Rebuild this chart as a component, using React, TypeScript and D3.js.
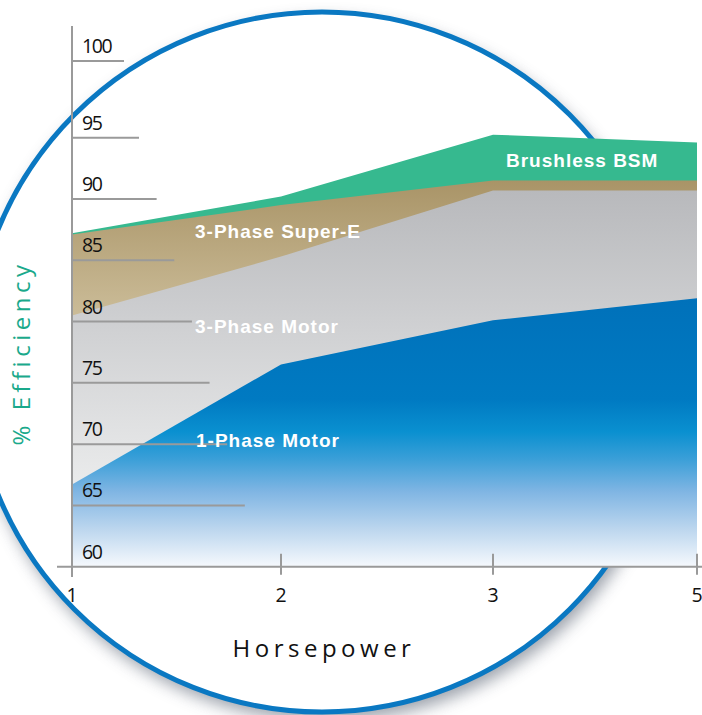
import React from "react";
import * as d3 from "d3";

// ---- data ----
const horsepower = [1, 2, 3, 5];
const xTickLabels = ["1", "2", "3", "5"];
const onePhaseMotor = [66.7, 76.5, 80.1, 81.9];
const threePhaseMotor = [80.5, 85.3, 90.7, 90.7];
const threePhaseSuperE = [87.1, 89.5, 91.5, 91.5];
const brushlessBSM = [87.2, 90.2, 95.2, 94.6];
const yTickValues = [60, 65, 70, 75, 80, 85, 90, 95, 100];
const seriesNames = ["Brushless BSM", "3-Phase Super-E", "3-Phase Motor", "1-Phase Motor"];

export default function App() {
  const x = d3.scaleLinear().domain([1, 2, 3, 5]).range([72, 281, 493, 697]);
  const y = d3.scaleLinear().domain([60, 95, 100]).range([566.7, 137.7, 61]);
  const tickEnd = d3.scaleLinear().domain([61, 137.7, 506]).range([124, 139, 245]);

  const areaGen = d3
    .area<number>()
    .x((_, i) => x(horsepower[i]))
    .y0(y(60))
    .y1((d) => y(d));

  const axisColor = "#9a9a9a";
  const numFont = "'Open Sans', 'Noto Sans', sans-serif";
  const labelFont = "'Liberation Sans', Arial, sans-serif";

  const labelPos = [
    { x: 506, y: 166.5 },
    { x: 195, y: 238 },
    { x: 195, y: 333 },
    { x: 196, y: 447 },
  ];

  return (
    <div style={{ position: "absolute", left: 0, top: 0 }}>
      <svg width={702} height={715} viewBox="0 0 702 715" style={{ display: "block" }}>
        <defs>
          <filter id="shadow" x="-20%" y="-20%" width="140%" height="140%">
            <feGaussianBlur stdDeviation="8" />
          </filter>
          <linearGradient id="gBlue" gradientUnits="userSpaceOnUse" x1="0" y1={y(82)} x2="0" y2={y(60)}>
            <stop offset="0" stopColor="#0071ba" />
            <stop offset="0.38" stopColor="#007ac2" />
            <stop offset="0.5" stopColor="#0a90d0" />
            <stop offset="0.6" stopColor="#3a9fd8" />
            <stop offset="0.72" stopColor="#7fb5e3" />
            <stop offset="0.86" stopColor="#bcd6ee" />
            <stop offset="1" stopColor="#f6f9fd" />
          </linearGradient>
          <linearGradient id="gGray" gradientUnits="userSpaceOnUse" x1="0" y1={y(90.7)} x2="0" y2={y(62)}>
            <stop offset="0" stopColor="#b8b9bc" />
            <stop offset="0.4" stopColor="#d0d1d3" />
            <stop offset="1" stopColor="#f4f5f5" />
          </linearGradient>
          <linearGradient id="gTan" gradientUnits="userSpaceOnUse" x1="0" y1={y(91.5)} x2="0" y2={y(80.5)}>
            <stop offset="0" stopColor="#a99467" />
            <stop offset="1" stopColor="#cbbc98" />
          </linearGradient>
        </defs>

        {/* decorative circle with shadow */}
        <circle cx={326} cy={370} r={351} fill="#7d8491" opacity={0.75} filter="url(#shadow)" />
        <circle cx={322} cy={362} r={350} fill="#ffffff" stroke="#0a78c2" strokeWidth={5} />

        {/* areas */}
        <path d={areaGen(brushlessBSM) || ""} fill="#36b98f" />
        <path d={areaGen(threePhaseSuperE) || ""} fill="url(#gTan)" />
        <path d={areaGen(threePhaseMotor) || ""} fill="url(#gGray)" />
        <path d={areaGen(onePhaseMotor) || ""} fill="url(#gBlue)" />

        {/* y tick lines & labels */}
        {yTickValues.map((v) => (
          <g key={v}>
            {v !== 60 && (
              <line x1={x(1)} x2={tickEnd(y(v))} y1={y(v)} y2={y(v)} stroke={axisColor} strokeWidth={2} />
            )}
            <text
              x={82}
              y={y(v) - 8}
              fontFamily={numFont}
              fontSize={19.5}
              letterSpacing={-1.4}
              fill="#111"
            >
              {v}
            </text>
          </g>
        ))}

        {/* axes */}
        <line x1={x(1)} x2={x(1)} y1={26} y2={577} stroke={axisColor} strokeWidth={2} />
        <line x1={57} x2={702} y1={y(60)} y2={y(60)} stroke={axisColor} strokeWidth={2} />
        {horsepower.map((h, i) => (
          <g key={h}>
            {i > 0 && (
              <line x1={x(h)} x2={x(h)} y1={y(60) - 13} y2={y(60) + 8} stroke={axisColor} strokeWidth={2} />
            )}
            <text
              x={x(h)}
              y={602}
              textAnchor="middle"
              fontFamily={numFont}
              fontSize={19.5}
              fill="#111"
            >
              {xTickLabels[i]}
            </text>
          </g>
        ))}

        {/* series labels */}
        {seriesNames.map((name, i) => (
          <text
            key={name}
            x={labelPos[i].x}
            y={labelPos[i].y}
            fontFamily={labelFont}
            fontWeight="bold"
            fontSize={19}
            letterSpacing={1}
            fill="#ffffff"
          >
            {name}
          </text>
        ))}

        {/* axis titles */}
        <text
          x={324}
          y={657}
          textAnchor="middle"
          fontFamily={numFont}
          fontSize={24}
          letterSpacing={4.5}
          fill="#111"
        >
          Horsepower
        </text>
        <text
          transform="translate(30,353) rotate(-90)"
          textAnchor="middle"
          fontFamily={numFont}
          fontSize={24}
          letterSpacing={4.5}
          fill="#1aa98b"
        >
          % Efficiency
        </text>
      </svg>
    </div>
  );
}
